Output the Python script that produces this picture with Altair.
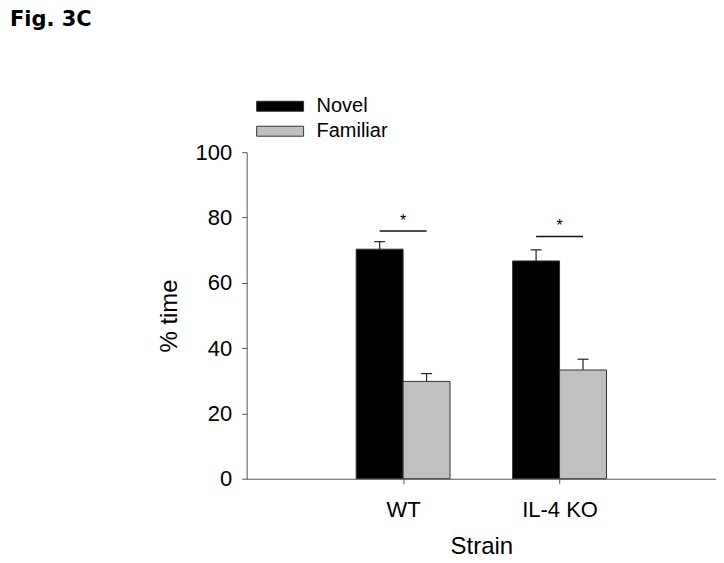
import altair as alt
import pandas as pd

strains = ["WT", "IL-4 KO"]
series = ["Novel", "Familiar"]
novel = [70.3, 66.7]
novel_err = [2.3, 3.4]
familiar = [29.8, 33.3]
familiar_err = [2.4, 3.3]
sig_y = [75.9, 74.2]
y_ticks = [0, 20, 40, 60, 80, 100]

BAR_W = 0.3
CAP_W = 0.035

rows = []
for i, s in enumerate(strains):
    pos = i + 1
    for j, (name, vals, errs) in enumerate([("Novel", novel, novel_err), ("Familiar", familiar, familiar_err)]):
        x0 = pos - BAR_W if j == 0 else pos
        x1 = x0 + BAR_W
        c = (x0 + x1) / 2
        rows.append({"strain": s, "series": name, "x0": x0, "x1": x1, "xc": c,
                     "cap0": c - CAP_W, "cap1": c + CAP_W, "base": 0,
                     "v": vals[i], "top": vals[i] + errs[i]})
df = pd.DataFrame(rows)

sig = pd.DataFrame({"strain": strains, "pos": [i + 1 for i in range(len(strains))],
                    "y": sig_y})
sig["xa"] = sig["pos"] - BAR_W / 2
sig["xb"] = sig["pos"] + BAR_W / 2
sig["star"] = "*"

xscale = alt.Scale(domain=[0, 3], nice=False, zero=False)
yscale = alt.Scale(domain=[0, 100], nice=False)

xaxis = alt.Axis(values=[1, 2], labelExpr="datum.value == 1 ? 'WT' : 'IL-4 KO'",
                 title="Strain", grid=False, tickSize=5, labelFontSize=22,
                 titleFontSize=24, labelPadding=16, titlePadding=14,
                 labelFont="Liberation Sans", titleFont="Liberation Sans",
                 titleFontWeight="normal", labelColor="black", titleColor="black",
                 domainColor="#555555", tickColor="#555555")
yaxis = alt.Axis(values=y_ticks, title="% time", grid=False, tickSize=5,
                 labelFontSize=22, titleFontSize=24, labelPadding=10, titlePadding=14,
                 labelFont="Liberation Sans", titleFont="Liberation Sans",
                 titleFontWeight="normal", labelColor="black", titleColor="black",
                 domainColor="#555555", tickColor="#555555")

legend = alt.Legend(
    title=None, orient="none", legendX=23.5, legendY=-56,
    symbolType="M-4.7,-1L4.7,-1L4.7,1L-4.7,1Z", symbolSize=100,
    symbolStrokeColor="#333333", symbolStrokeWidth=1, symbolOpacity=1,
    labelOffset=26.5, labelFontSize=20, labelFont="Liberation Sans",
    labelColor="black", rowPadding=5, padding=0,
)

bars = alt.Chart(df).mark_bar(stroke="#333333", strokeWidth=1).encode(
    x=alt.X("x0:Q", scale=xscale, axis=xaxis),
    x2="x1:Q",
    y=alt.Y("v:Q", scale=yscale, axis=yaxis),
    y2="base:Q",
    color=alt.Color("series:N", scale=alt.Scale(domain=series, range=["#000000", "#c0c0c0"]),
                    legend=legend),
)

err = alt.Chart(df).mark_rule(color="#222222", strokeWidth=1.2).encode(
    x="xc:Q", y="v:Q", y2="top:Q")
caps = alt.Chart(df).mark_rule(color="#222222", strokeWidth=1.2).encode(
    x="cap0:Q", x2="cap1:Q", y="top:Q")

sig_lines = alt.Chart(sig).mark_rule(color="#111111", strokeWidth=1.5).encode(
    x="xa:Q", x2="xb:Q", y="y:Q")
stars = alt.Chart(sig).mark_text(fontSize=16, font="Liberation Sans", dy=-5,
                                 baseline="alphabetic", color="black").encode(
    x="pos:Q", y="y:Q", text="star:N")

chart = alt.layer(bars, err, caps, sig_lines, stars).properties(
    width=470, height=327,
    autosize=alt.AutoSizeParams(type="none"),
    padding={"left": 239, "top": 144, "right": 0, "bottom": 80},
    title=alt.TitleParams("Fig. 3C", anchor="start", frame="group", dx=-237, dy=-66,
                          font="DejaVu Sans", fontSize=21, fontWeight="bold",
                          color="black", offset=0),
).configure_view(stroke=None)

chart.save("out.html", embed_options={"renderer": "svg", "actions": False})
